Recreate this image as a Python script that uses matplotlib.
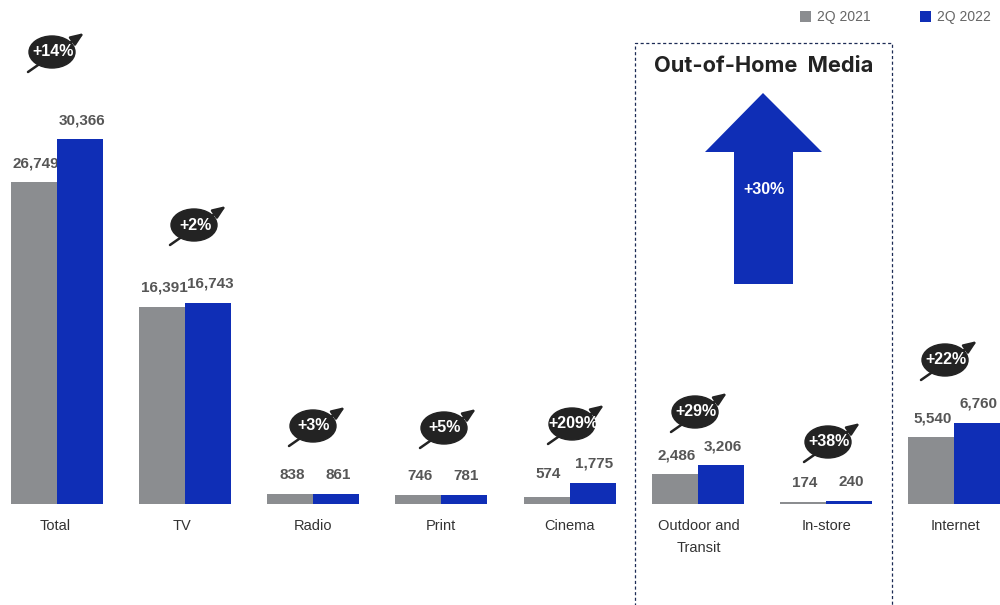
import matplotlib
matplotlib.use("Agg")
import matplotlib.pyplot as plt
from matplotlib.patches import Ellipse, Polygon, Rectangle
import numpy as np

# media spend by channel, second quarter
categories = ["Total", "TV", "Radio", "Print", "Cinema", "Outdoor and\nTransit", "In-store", "Internet"]
q2_2021 = [26749, 16391, 838, 746, 574, 2486, 174, 5540]
q2_2022 = [30366, 16743, 861, 781, 1775, 3206, 240, 6760]
growth = ["+14%", "+2%", "+3%", "+5%", "+209%", "+29%", "+38%", "+22%"]

GREY = "#8b8d90"
BLUE = "#0f2eb6"
DARK = "#232323"
SANS = "Liberation Sans"

# badge centres in pixels, one per category
badge_x = [52, 194, 313, 444, 572, 695, 828, 945]
badge_y = [52, 225, 426, 428, 424, 412, 442, 360]
# small nudges for the category names
name_dx = [-2, -3.5, 0, -1, 0, 1, 1, 2]

fig = plt.figure(figsize=(10, 6.05), dpi=100)

# bars live in category / value units, stretched over the whole figure
ax = fig.add_axes([0, 0, 1, 1])
spacing = 128.14
scale = 0.01202
ax.set_xlim(-57 / spacing, (1000 - 57) / spacing)
ax.set_ylim(-101 / scale, 504 / scale)
ax.axis("off")

x = np.arange(len(categories))
w = 46 / spacing
ax.bar(x - w / 2, q2_2021, w, color=GREY, zorder=2)
ax.bar(x + w / 2, q2_2022, w, color=BLUE, zorder=2)

for i, (a, b) in enumerate(zip(q2_2021, q2_2022)):
    # the small cinema bar has its label lifted a bit more
    lift = 23 if categories[i] == "Cinema" else 19
    ax.annotate(f"{a:,}", (x[i] - w / 2, a), xytext=(2, lift), textcoords="offset pixels",
                ha="center", va="center", fontsize=11, color="#444444", family=SANS,
                fontweight="bold", alpha=0.9, zorder=1)
    ax.annotate(f"{b:,}", (x[i] + w / 2, b), xytext=(2, 19), textcoords="offset pixels",
                ha="center", va="center", fontsize=11, color="#444444", family=SANS,
                fontweight="bold", alpha=0.9, zorder=5)
    for n, line in enumerate(categories[i].split("\n")):
        ax.annotate(line, (x[i], 0), xytext=(name_dx[i], -21.5 - 23 * n), textcoords="offset pixels",
                    ha="center", va="center", fontsize=10.5, color="#333333", family=SANS)

# everything else is placed in pixel coordinates
ov = fig.add_axes([0, 0, 1, 1], facecolor="none")
ov.set_xlim(0, 1000)
ov.set_ylim(605, 0)
ov.axis("off")

for bx, by, label in zip(badge_x, badge_y, growth):
    ov.annotate("", xy=(bx + 32, by - 19), xytext=(bx - 24, by + 20),
                arrowprops=dict(arrowstyle="-|>,head_width=0.22,head_length=0.55", color=DARK,
                                lw=1.8, mutation_scale=14, shrinkA=0, shrinkB=0))
    ov.add_patch(Ellipse((bx, by), 46, 32, color=DARK, zorder=3))
    ov.text(bx + 1, by, label, color="white", ha="center", va="center", fontsize=11.5,
            fontweight="bold", family=SANS, zorder=4)

# dashed frame around the out-of-home group, open past the bottom edge
ov.plot([634.5, 634.5, 892, 892], [610, 43, 43, 610], color="#1c2b55", lw=0.9,
        ls=(0, (2.5, 2)), clip_on=False)
ov.text(764, 66.5, "Out-of-Home  Media", ha="center", va="center", fontsize=15.7,
        fontweight="bold", family="Inter", color=DARK)

ov.add_patch(Polygon([(763, 93), (822, 152), (793, 152), (793, 284), (734, 284), (734, 152), (705, 152)],
                     closed=True, color=BLUE, lw=0))
ov.text(764, 190, "+30%", color="white", ha="center", va="center", fontsize=11.5,
        fontweight="bold", family=SANS)

# legend
for lx, col, label in [(800, GREY, "2Q 2021"), (920, BLUE, "2Q 2022")]:
    ov.add_patch(Rectangle((lx, 11), 11, 11, color=col, lw=0))
    ov.text(lx + 17, 16.5, label, ha="left", va="center", fontsize=10, color="#666666", family=SANS)

fig.savefig("out.png", dpi=100)
